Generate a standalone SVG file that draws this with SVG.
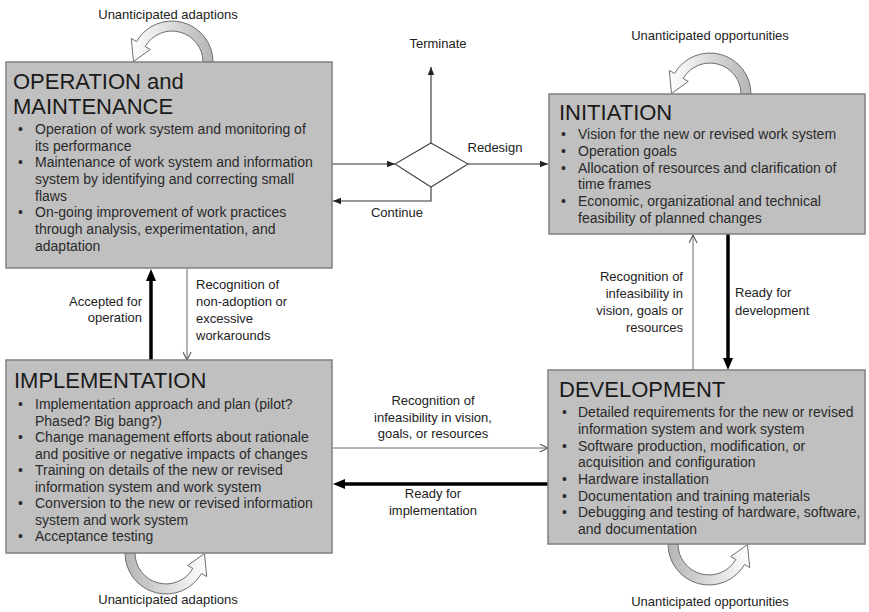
<svg xmlns="http://www.w3.org/2000/svg" width="869" height="612" viewBox="0 0 869 612">
<defs>
<style>
.box{fill:#c0c0c0;stroke:#808080;stroke-width:1.5}
.title{font-family:"Liberation Sans",Arial,sans-serif;font-size:22px;fill:#1a1a1a}
.bul{font-family:"Liberation Sans",Arial,sans-serif;font-size:14px;fill:#2a2a2a}
.lbl{font-family:"Liberation Sans",Arial,sans-serif;font-size:13px;fill:#222}
.thin{fill:none;stroke:#333;stroke-width:1.1}
.gray{fill:none;stroke:#6a6a6a;stroke-width:1}
.thick{fill:none;stroke:#000;stroke-width:3.5}
.loop{fill:url(#lg);stroke:#6e6e6e;stroke-width:1}
</style>
<linearGradient id="lg" x1="0" y1="0" x2="1" y2="0">
<stop offset="0" stop-color="#ffffff"/>
<stop offset="1" stop-color="#b5b5b5"/>
</linearGradient>
<marker id="tri" viewBox="0 0 10 10" refX="10" refY="5" markerWidth="8" markerHeight="8" markerUnits="userSpaceOnUse" orient="auto"><path d="M0,1 L10,5 L0,9 z" fill="#222"/></marker>
<marker id="big" viewBox="0 0 12 12" refX="0" refY="6" markerWidth="12" markerHeight="12" markerUnits="userSpaceOnUse" orient="auto"><path d="M0,1 L12,6 L0,11 z" fill="#000"/></marker>
<marker id="vee" viewBox="0 0 10 10" refX="10" refY="5" markerWidth="9" markerHeight="9" markerUnits="userSpaceOnUse" orient="auto"><path d="M1,0.5 L10,5 L1,9.5" fill="none" stroke="#555" stroke-width="1.2"/></marker>
<path id="loopShape" d="M 213 62 A 41 41 0 0 0 136.5 41.5 L 131.3 38.5 L 133.5 61.5 L 150.3 49.5 L 145.2 46.5 A 31 31 0 0 1 203 62 Z"/>
</defs>
<rect width="869" height="612" fill="#ffffff"/>

<g id="loops">
<use href="#loopShape" class="loop"/>
<use href="#loopShape" class="loop" transform="translate(538,32)"/>
<use href="#loopShape" class="loop" transform="translate(166,553) rotate(180) translate(-172,-62)"/>
<use href="#loopShape" class="loop" transform="translate(709,544) rotate(180) translate(-172,-62)"/>
</g>

<g id="connectors">
<path class="thin" d="M332,164 H395" marker-end="url(#tri)"/>
<path class="thin" d="M431,143 V67" marker-end="url(#tri)"/>
<path class="thin" d="M468,164 H548" marker-end="url(#tri)"/>
<path class="thin" d="M431,187 V201 H333" marker-end="url(#tri)"/>
<path class="thick" d="M151,360 V281"  marker-end="url(#big)"/>
<path class="gray" d="M187,269 V360" marker-end="url(#vee)"/>
<path class="thick" d="M728,234 V358" marker-end="url(#big)"/>
<path class="gray" d="M693,370 V235" marker-end="url(#vee)"/>
<path class="gray" d="M332,448 H548" marker-end="url(#vee)"/>
<path class="thick" d="M548,484 H345" marker-end="url(#big)"/>
</g>

<g id="decision">
<polygon points="431,143 468,164 431,187 395,164" fill="#ffffff" stroke="#444" stroke-width="1.1"/>
</g>

<g id="labels">
<text class="lbl" x="168" y="19" text-anchor="middle">Unanticipated adaptions</text>
<text class="lbl" x="438" y="48" text-anchor="middle">Terminate</text>
<text class="lbl" x="495" y="152" text-anchor="middle">Redesign</text>
<text class="lbl" x="397" y="217" text-anchor="middle">Continue</text>
<text class="lbl" x="710" y="40" text-anchor="middle">Unanticipated opportunities</text>
<text class="lbl" x="196" y="288.5">Recognition of</text>
<text class="lbl" x="196" y="305.5">non-adoption or</text>
<text class="lbl" x="196" y="322.5">excessive</text>
<text class="lbl" x="196" y="340">workarounds</text>
<text class="lbl" x="142" y="306" text-anchor="end">Accepted for</text>
<text class="lbl" x="142" y="322" text-anchor="end">operation</text>
<text class="lbl" x="683" y="281" text-anchor="end">Recognition of</text>
<text class="lbl" x="683" y="298" text-anchor="end">infeasibility in</text>
<text class="lbl" x="683" y="315" text-anchor="end">vision, goals or</text>
<text class="lbl" x="683" y="332" text-anchor="end">resources</text>
<text class="lbl" x="735" y="297">Ready for</text>
<text class="lbl" x="735" y="315">development</text>
<text class="lbl" x="433" y="405" text-anchor="middle">Recognition of</text>
<text class="lbl" x="433" y="422" text-anchor="middle">infeasibility in vision,</text>
<text class="lbl" x="433" y="438" text-anchor="middle">goals, or resources</text>
<text class="lbl" x="433" y="498" text-anchor="middle">Ready for</text>
<text class="lbl" x="433" y="515" text-anchor="middle">implementation</text>
<text class="lbl" x="168" y="604" text-anchor="middle">Unanticipated adaptions</text>
<text class="lbl" x="710" y="606" text-anchor="middle">Unanticipated opportunities</text>
</g>

<g id="operation">
<rect class="box" x="6" y="62" width="326" height="206"/>
<text class="title" x="13" y="89">OPERATION and</text>
<text class="title" x="13" y="114">MAINTENANCE</text>
<text class="bul" x="18" y="134">•</text><text class="bul" x="35" y="134">Operation of work system and monitoring of</text>
<text class="bul" x="35" y="150.7">its performance</text>
<text class="bul" x="18" y="167.4">•</text><text class="bul" x="35" y="167.4">Maintenance of work system and information</text>
<text class="bul" x="35" y="184">system by identifying and correcting small</text>
<text class="bul" x="35" y="200.7">flaws</text>
<text class="bul" x="18" y="217.4">•</text><text class="bul" x="35" y="217.4">On-going improvement of work practices</text>
<text class="bul" x="35" y="234">through analysis, experimentation, and</text>
<text class="bul" x="35" y="250.7">adaptation</text>
</g>

<g id="initiation">
<rect class="box" x="549" y="94" width="316" height="140"/>
<text class="title" x="559" y="120">INITIATION</text>
<text class="bul" x="561" y="139">•</text><text class="bul" x="578" y="139">Vision for the new or revised work system</text>
<text class="bul" x="561" y="156">•</text><text class="bul" x="578" y="156">Operation goals</text>
<text class="bul" x="561" y="172.5">•</text><text class="bul" x="578" y="172.5">Allocation of resources and clarification of</text>
<text class="bul" x="578" y="189">time frames</text>
<text class="bul" x="561" y="206">•</text><text class="bul" x="578" y="206">Economic, organizational and technical</text>
<text class="bul" x="578" y="222.5">feasibility of planned changes</text>
</g>

<g id="implementation">
<rect class="box" x="6" y="360" width="326" height="193"/>
<text class="title" x="14" y="388">IMPLEMENTATION</text>
<text class="bul" x="18" y="409">•</text><text class="bul" x="35" y="409">Implementation approach and plan (pilot?</text>
<text class="bul" x="35" y="425.5">Phased? Big bang?)</text>
<text class="bul" x="18" y="442">•</text><text class="bul" x="35" y="442">Change management efforts about rationale</text>
<text class="bul" x="35" y="458.5">and positive or negative impacts of changes</text>
<text class="bul" x="18" y="475">•</text><text class="bul" x="35" y="475">Training on details of the new or revised</text>
<text class="bul" x="35" y="491.5">information system and work system</text>
<text class="bul" x="18" y="508">•</text><text class="bul" x="35" y="508">Conversion to the new or revised information</text>
<text class="bul" x="35" y="524.5">system and work system</text>
<text class="bul" x="18" y="541">•</text><text class="bul" x="35" y="541">Acceptance testing</text>
</g>

<g id="development">
<rect class="box" x="548" y="370" width="317" height="174"/>
<text class="title" x="559" y="397">DEVELOPMENT</text>
<text class="bul" x="562" y="417">•</text><text class="bul" x="578" y="417">Detailed requirements for the new or revised</text>
<text class="bul" x="578" y="433.5">information system and work system</text>
<text class="bul" x="562" y="450.5">•</text><text class="bul" x="578" y="450.5">Software production, modification, or</text>
<text class="bul" x="578" y="467">acquisition and configuration</text>
<text class="bul" x="562" y="484">•</text><text class="bul" x="578" y="484">Hardware installation</text>
<text class="bul" x="562" y="500.5">•</text><text class="bul" x="578" y="500.5">Documentation and training materials</text>
<text class="bul" x="562" y="517">•</text><text class="bul" x="578" y="517">Debugging and testing of hardware, software,</text>
<text class="bul" x="578" y="533.5">and documentation</text>
</g>
</svg>
